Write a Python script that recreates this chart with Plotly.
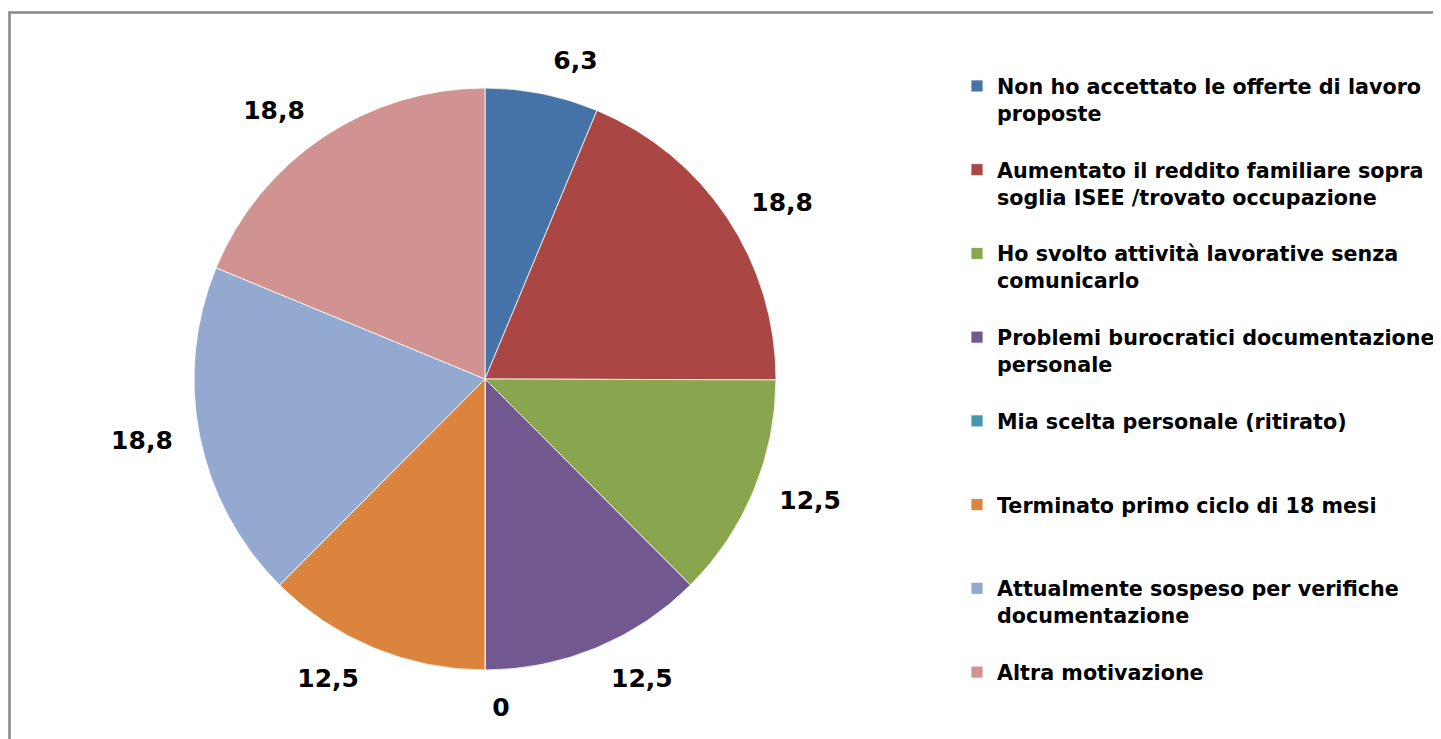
import plotly.graph_objects as go

labels = [
    "Non ho accettato le offerte di lavoro<br>proposte",
    "Aumentato il reddito familiare sopra<br>soglia ISEE /trovato occupazione",
    "Ho svolto attività lavorative senza<br>comunicarlo",
    "Problemi burocratici documentazione<br>personale",
    "Mia scelta personale (ritirato)",
    "Terminato primo ciclo di 18 mesi",
    "Attualmente sospeso per verifiche<br>documentazione",
    "Altra motivazione",
]
values = [6.3, 18.8, 12.5, 12.5, 0, 12.5, 18.8, 18.8]
colors = ["#4572A7", "#AA4643", "#89A54E", "#71588F",
          "#4198AF", "#DB843D", "#93A9CF", "#D19392"]

# page body has an 8px margin, so the figure is that much smaller
W, H = 1433, 731

# pie geometry (figure pixels)
CX, CY, R = 477, 371, 291
R_LABEL = 311  # data labels sit a little further out than plotly's default


def pad_label(s, last):
    # every legend entry occupies three text lines (marker on the first),
    # except the last one, which needs no trailing space
    if last:
        return s
    n = s.count("<br>") + 1
    return s + "<br> " * (3 - n)


def domain(r):
    return dict(x=[(CX - r) / W, (CX + r) / W],
                y=[1 - (CY + r) / H, 1 - (CY - r) / H])


legend_labels = [pad_label(s, i == len(labels) - 1) for i, s in enumerate(labels)]
texts = [f"{v:g}".replace(".", ",") for v in values]

FONT = "DejaVu Sans"
label_font = dict(family=FONT, size=25, color="#000000", weight="bold")

fig = go.Figure()

# visible pie
fig.add_trace(go.Pie(
    labels=legend_labels,
    values=values,
    text=texts,
    textinfo="none",
    sort=False,
    direction="clockwise",
    rotation=0,
    marker=dict(colors=colors, line=dict(color="rgba(255,255,255,0.8)", width=1)),
    domain=domain(R),
    showlegend=True,
    hoverinfo="label+text",
))

# transparent twin pie, only used to place the data labels
fig.add_trace(go.Pie(
    labels=legend_labels,
    values=values,
    text=texts,
    textinfo="text",
    textposition="outside",
    sort=False,
    direction="clockwise",
    rotation=0,
    marker=dict(colors=["rgba(0,0,0,0)"] * len(values),
                line=dict(width=0)),
    outsidetextfont=label_font,
    textfont=label_font,
    domain=domain(R_LABEL),
    showlegend=False,
    hoverinfo="skip",
))

fig.update_layout(
    width=W, height=H,
    margin=dict(l=0, r=0, t=0, b=0),
    paper_bgcolor="white",
    plot_bgcolor="white",
    legend=dict(
        x=949 / W, xanchor="left",
        y=1 - 58 / H, yanchor="top",
        valign="top",
        font=dict(family=FONT, size=20.7, color="#000000", weight="bold"),
        bgcolor="rgba(0,0,0,0)",
        borderwidth=0,
    ),
    shapes=[dict(
        type="rect", xref="paper", yref="paper",
        x0=1.5 / W, x1=1.02, y0=-0.02, y1=1 - 4.5 / H,
        line=dict(color="#868686", width=2.5),
        fillcolor="rgba(0,0,0,0)",
        layer="below",
    )],
)

hide_leaders = (
    "document.getElementById('{plot_id}').querySelectorAll('path.textline')"
    ".forEach(function(e){e.style.display='none';});"
)

fig.write_html("out.html", post_script=hide_leaders)
